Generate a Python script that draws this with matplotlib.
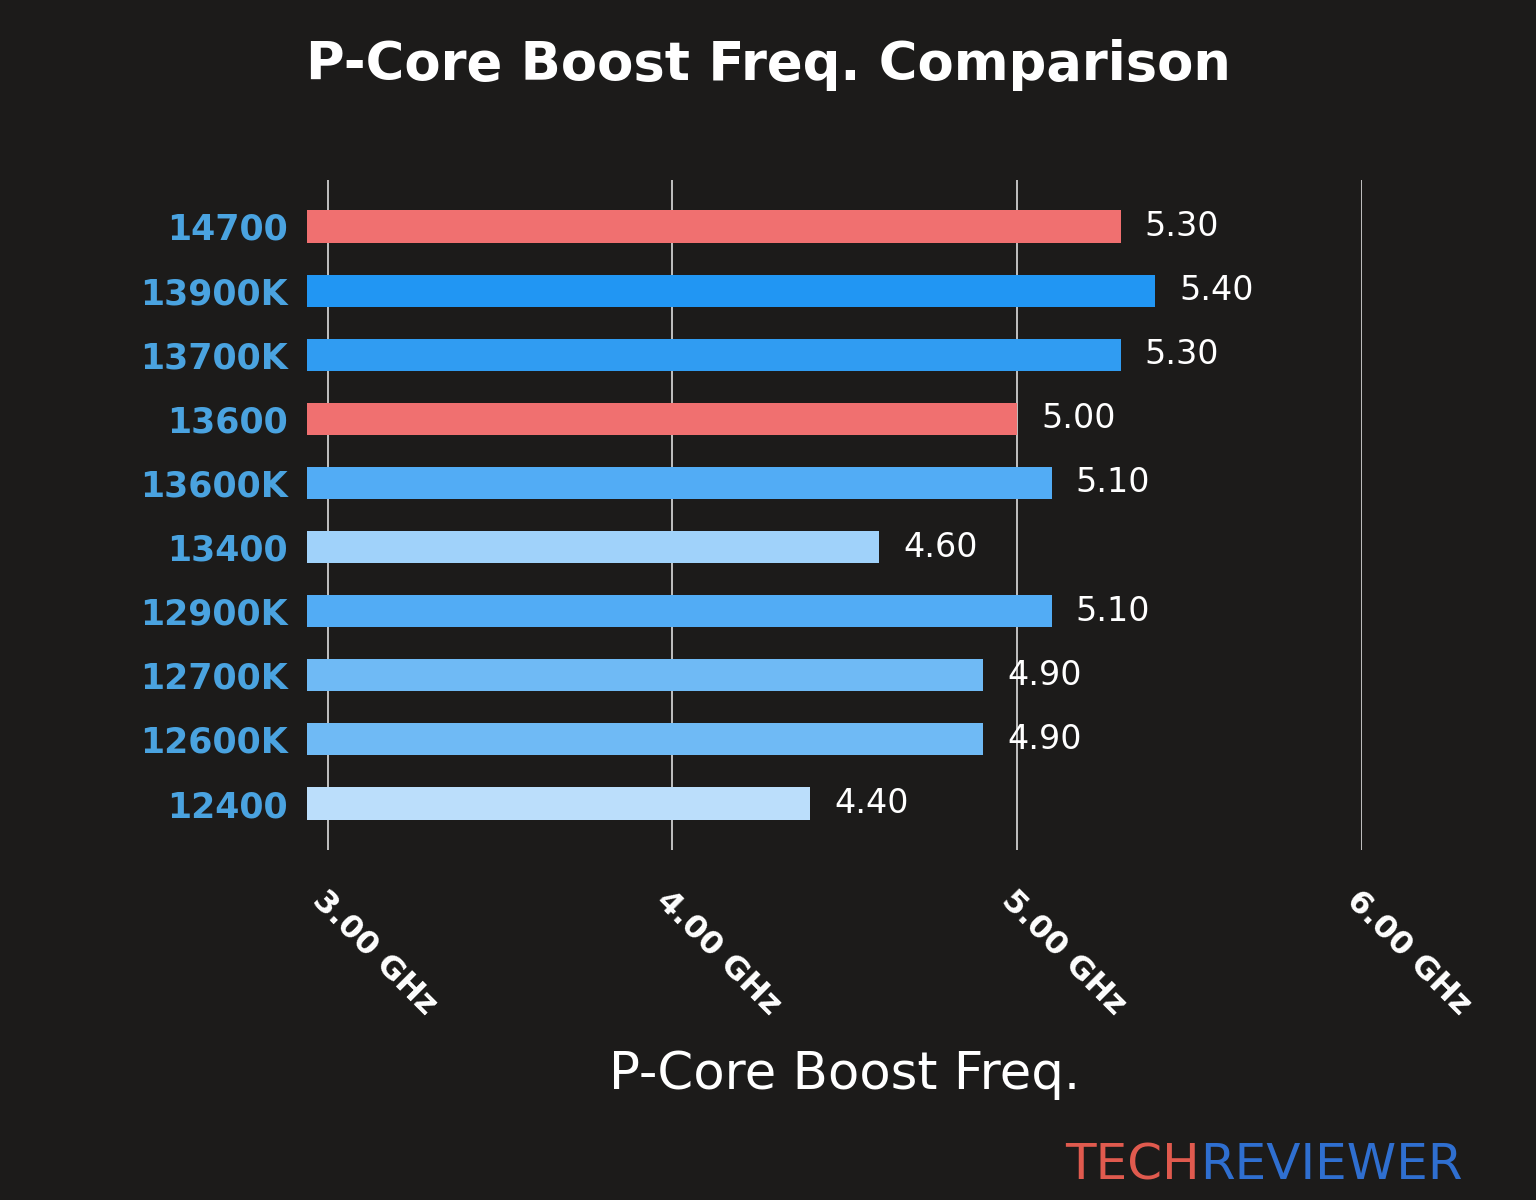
import matplotlib.pyplot as plt
import numpy as np

cpus = ['14700', '13900K', '13700K', '13600', '13600K', '13400', '12900K', '12700K', '12600K', '12400']
boost = [5.30, 5.40, 5.30, 5.00, 5.10, 4.60, 5.10, 4.90, 4.90, 4.40]
colors = ['#f07070', '#2196f3', '#309cf2', '#f07070', '#52acf5', '#a0d2fa',
          '#52acf5', '#6fbaf5', '#6fbaf5', '#bbdefb']
ticks = [3.0, 4.0, 5.0, 6.0]
tick_labels = ['3.00 GHz', '4.00 GHz', '5.00 GHz', '6.00 GHz']

fig = plt.figure(figsize=(15.36, 12), dpi=100, facecolor='#1c1b1a')
ax = fig.add_axes([307/1536, 1 - 850/1200, (1362 - 307)/1536, 670/1200])
ax.set_facecolor('none')

left = 2.94
y = np.arange(len(cpus))
ax.barh(y, np.array(boost) - left, left=left, height=0.5, color=colors, zorder=3)
for yi, v in zip(y, boost):
    ax.text(v + 0.07, yi, f'{v:.2f}', color='white', fontsize=24, va='center', zorder=4)

ax.set_xlim(left, 6.0)
ax.set_ylim(9.725, -0.725)
ax.set_xticks(ticks)
ax.set_xticklabels(tick_labels, rotation=-45, ha='left', rotation_mode='anchor',
                   color='white', fontsize=23, fontweight='bold')
ax.set_yticks(y)
ax.set_yticklabels(cpus, color='#4aa3e0', fontsize=25, fontweight='bold')
ax.tick_params(length=0, pad=20)
ax.tick_params(axis='y', pad=14)
ax.tick_params(axis='x', pad=25)
ax.xaxis.grid(True, color='#dddddd', linewidth=1.2, zorder=0)
for s in ax.spines.values():
    s.set_visible(False)

fig.text(0.5, 1 - 65/1200, 'P-Core Boost Freq. Comparison', color='white', fontsize=38,
         fontweight='bold', ha='center', va='center')
fig.text(0.55, 1 - 1075/1200, 'P-Core Boost Freq.', color='white', fontsize=37,
         ha='center', va='center')
fig.text(1200/1536, 1 - 1165/1200, 'TECH', color='#e05a4e', fontsize=36, ha='right', va='center')
fig.text(1200/1536, 1 - 1165/1200, 'REVIEWER', color='#2f6fd0', fontsize=36, ha='left', va='center')

fig.savefig('out.png', dpi=100, facecolor=fig.get_facecolor())
